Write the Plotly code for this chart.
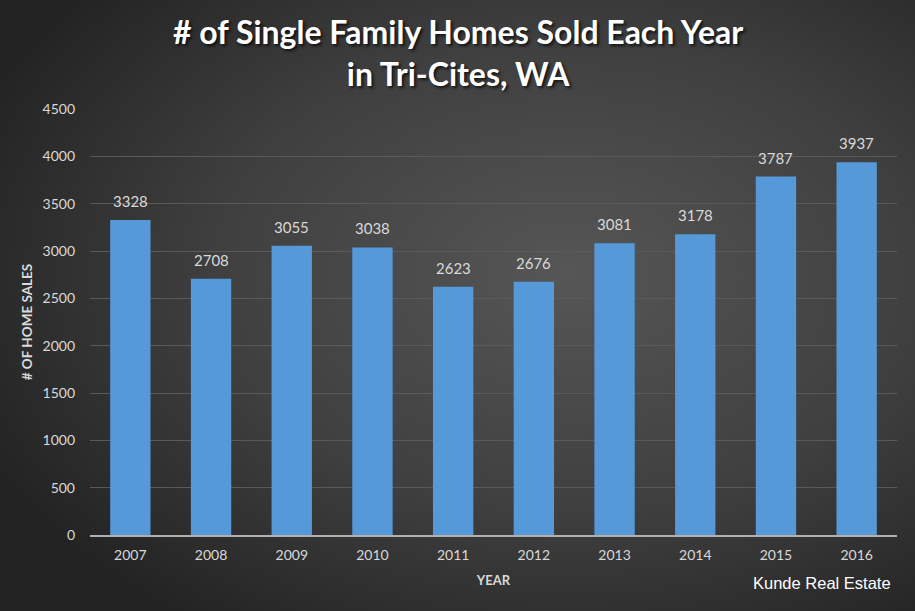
import base64
import plotly.graph_objects as go

years = ["2007", "2008", "2009", "2010", "2011", "2012", "2013", "2014", "2015", "2016"]
sales = [3328, 2708, 3055, 3038, 2623, 2676, 3081, 3178, 3787, 3937]
y_ticks = [0, 500, 1000, 1500, 2000, 2500, 3000, 3500, 4000, 4500]

W, H = 915, 611
ML, MR, MT, MB = 90, 18, 109, 76
PW, PH = W - ML - MR, H - MT - MB

svg = f'''<svg xmlns="http://www.w3.org/2000/svg" width="{W}" height="{H}" viewBox="0 0 {W} {H}">
<defs><radialGradient id="g" cx="62%" cy="45%" r="70%">
<stop offset="0" stop-color="#565656"/><stop offset="0.55" stop-color="#3f3f3f"/><stop offset="1" stop-color="#232323"/>
</radialGradient></defs><rect width="{W}" height="{H}" fill="url(#g)"/></svg>'''
bg_uri = "data:image/svg+xml;base64," + base64.b64encode(svg.encode()).decode()

fig = go.Figure()
fig.add_trace(go.Bar(
    x=years, y=sales,
    marker=dict(color="#5699d8", line=dict(width=0)),
))

label_annotations = [
    dict(x=i, y=v, xref="x", yref="y", text=str(v), showarrow=False,
         yanchor="bottom", yshift=8,
         font=dict(family="Lato", size=15, color="#d9d9d9"))
    for i, v in enumerate(sales)
]

fig.update_layout(
    width=W, height=H,
    margin=dict(l=ML, r=MR, t=MT, b=MB),
    paper_bgcolor="#333333", plot_bgcolor="rgba(0,0,0,0)",
    bargap=0.5,
    showlegend=False,
    images=[dict(
        source=bg_uri, xref="paper", yref="paper",
        x=-ML / PW, y=1 + MT / PH, sizex=W / PW, sizey=H / PH,
        xanchor="left", yanchor="top", sizing="stretch", layer="below",
    )],
    xaxis=dict(
        type="category", range=[-0.5, len(years) - 0.5],
        tickfont=dict(family="Lato", size=14, color="#d9d9d9"),
        showline=True, linecolor="#b0b0b0", linewidth=2,
        showgrid=False, ticks="", ticklabelstandoff=6,
        title=dict(text="<b>YEAR</b>", font=dict(family="Lato", size=13, color="#d9d9d9"), standoff=14),
    ),
    yaxis=dict(
        range=[0, 4500], tickvals=y_ticks,
        tickfont=dict(family="Lato", size=14, color="#d9d9d9"),
        gridcolor="#5a5a5a", gridwidth=1, zeroline=False,
        ticks="", ticklabelstandoff=14,
        title=dict(text="<b># OF HOME SALES</b>", font=dict(family="Lato", size=13.5, color="#d9d9d9"), standoff=6),
    ),
    annotations=label_annotations + [
        dict(
            text="<b># of Single Family Homes Sold Each Year</b><br><b>in Tri-Cites, WA</b>",
            xref="paper", yref="paper", x=((W / 2) - ML) / PW,
            y=1 + (MT - 53) / PH, xanchor="center", yanchor="middle",
            showarrow=False, align="center",
            font=dict(family="Lato", size=32, color="#ffffff",
                      shadow="2px 2px 3px rgba(0,0,0,0.7)"),
        ),
        dict(
            text="Kunde Real Estate", xref="paper", yref="paper",
            x=(822 - ML) / PW, y=-(583 - (MT + PH)) / PH, xanchor="center", yanchor="middle",
            showarrow=False, font=dict(family="Liberation Sans", size=16.5, color="#ffffff"),
        ),
    ],
)

fig.write_html("out.html")
